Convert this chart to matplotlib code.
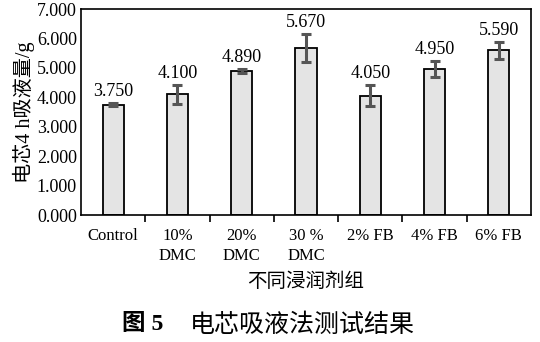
import numpy as np
import matplotlib
matplotlib.use("Agg")
import matplotlib.pyplot as plt

plt.rcParams["font.family"] = ["Liberation Serif", "Noto Sans CJK SC"]

categories = ["Control", "10%\nDMC", "20%\nDMC", "30 %\nDMC", "2% FB", "4% FB", "6% FB"]
values = [3.750, 4.100, 4.890, 5.670, 4.050, 4.950, 5.590]
errors = [0.06, 0.32, 0.08, 0.48, 0.36, 0.27, 0.28]
yticks = [0, 1, 2, 3, 4, 5, 6, 7]

fig = plt.figure(figsize=(5.4, 3.42), dpi=100)
ax = fig.add_axes([81 / 540, 1 - 215 / 342, 450 / 540, 206 / 342])

x = np.arange(len(values))
ax.bar(x, values, width=0.33, color="#e4e4e4", edgecolor="black", linewidth=1.3, zorder=2)
ax.errorbar(x, values, yerr=errors, fmt="none", ecolor="#555555",
            elinewidth=2.2, capsize=3.5, capthick=2.2, zorder=3)

for xi, v, e in zip(x, values, errors):
    ax.text(xi, v + e + 0.1, f"{v:.3f}", ha="center", va="bottom", fontsize=13)

ax.set_xlim(-0.5, len(values) - 0.5)
ax.set_ylim(0, 7)
ax.set_yticks(yticks)
ax.set_yticklabels([f"{t:.3f}" for t in yticks], fontsize=13)
ax.tick_params(axis="y", length=0, pad=3)

ax.set_xticks(x)
ax.set_xticklabels(categories, fontsize=12, linespacing=1.35)
ax.tick_params(axis="x", length=0, pad=9)
ax.set_xticks(np.arange(0.5, len(values) - 0.5, 1), minor=True)
ax.tick_params(axis="x", which="minor", length=5, width=1.2, direction="out")

for s in ax.spines.values():
    s.set_linewidth(1.2)

ax.set_ylabel("电芯4 h吸液量/g", fontsize=14.5, labelpad=1)
ax.set_xlabel("不同浸润剂组", fontsize=14, labelpad=6)

fig.text(122 / 540, 1 - 325 / 342, "图 5", fontsize=17, fontweight="bold", ha="left", va="center")
fig.text(190 / 540, 1 - 325 / 342, "电芯吸液法测试结果", fontsize=18, ha="left", va="center")

fig.savefig("out.png", dpi=100)
